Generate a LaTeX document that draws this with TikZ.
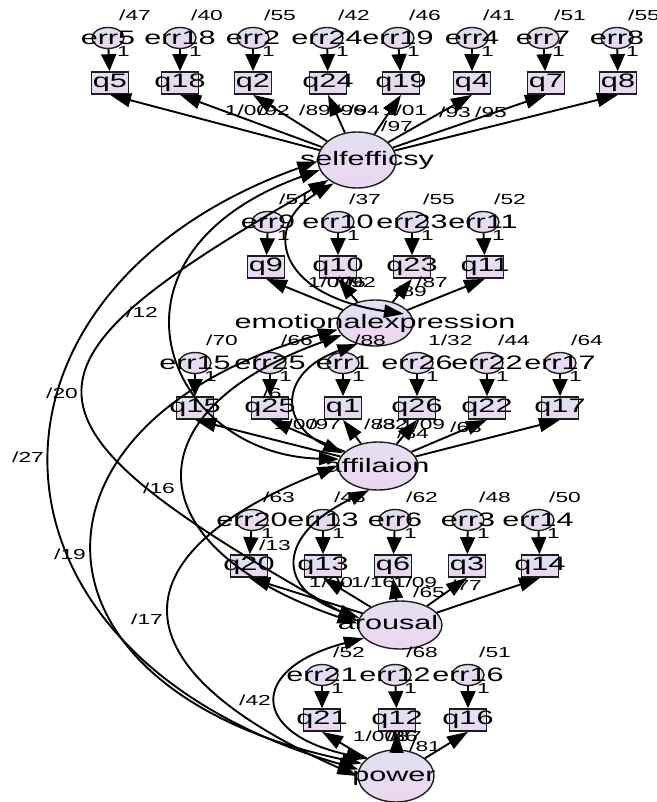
\documentclass[tikz,border=0pt]{standalone}
\usepackage{fontspec}
\setmainfont{Liberation Sans}
\usepackage{graphicx}
\usetikzlibrary{shapes.geometric,arrows.meta}
\newcommand\stx[1]{\scalebox{1.57}[1]{#1}}
\definecolor{fillA}{RGB}{226,224,242}
\definecolor{fillB}{RGB}{236,214,240}
\definecolor{edgec}{RGB}{30,30,30}
\begin{document}
\begin{tikzpicture}[x=1pt,y=-1pt,
  shp/.style={draw=edgec, line width=1.4pt, top color=fillA, bottom color=fillB},
  lat/.style={shp, ellipse, inner sep=0pt},
  errc/.style={shp, ellipse, minimum width=32pt, minimum height=21pt, inner sep=0pt},
  obs/.style={shp, rectangle, minimum width=37pt, minimum height=22pt, inner sep=0pt, line width=1.7pt},
  big/.style={font=\fontsize{19.5}{19.5}\selectfont, inner sep=0pt},
  sml/.style={font=\fontsize{14.5}{14.5}\selectfont, inner sep=0pt},
  con/.style={line width=1.9pt, -{Triangle[length=21pt,width=14pt]}},
  econ/.style={line width=1.9pt, -{Triangle[length=17pt,width=15pt]}},
  cov/.style={line width=1.9pt, {Triangle[length=20pt,width=13pt]}-{Triangle[length=20pt,width=13pt]}},
]
\useasboundingbox (0,0) rectangle (656,802);
\fill[white] (0,0) rectangle (656,802);

% latent variables
\node[lat, minimum width=78pt, minimum height=56pt] (SE) at (357,160) {};
\node[lat, minimum width=76pt, minimum height=46pt] (EE) at (375,323) {};
\node[lat, minimum width=80pt, minimum height=48pt] (AF) at (378,466) {};
\node[lat, minimum width=84pt, minimum height=48pt] (AR) at (400,625) {};
\node[lat, minimum width=76pt, minimum height=52pt] (PO) at (396,776) {};
\node[big] (SEt) at (367,160) {\stx{selfefficsy}};
\node[big] (EEt) at (375,323) {\stx{emotionalexpression}};
\node[big] (AFt) at (377,466) {\stx{affilaion}};
\node[big] (ARt) at (388,623) {\stx{arousal}};
\node[big] (POt) at (394,778) {\stx{power}};

% errors and observed variables
\foreach \n/\ex/\ey/\bx/\by/\v in {
  5/108/38/110/83/{/47}, 18/180/38/180/83/{/40}, 2/253/38/253/83/{/55},
  24/327/38/328/83/{/42}, 19/398/38/401/83/{/46}, 4/472/38/472/83/{/41},
  7/543/38/546/83/{/51}, 8/617/38/618/83/{/55},
  9/268/222/266/267/{/51}, 10/338/222/338/267/{/37}, 23/412/222/412/267/{/55},
  11/483/222/485/267/{/52},
  15/195/363/195/408/{/70}, 25/270/363/270/408/{/66}, 1/343/363/343/408/{/88},
  26/417/363/417/408/{1/32}, 22/487/363/487/408/{/44}, 17/560/363/560/408/{/64},
  20/252/520/249/566/{/63}, 13/323/520/323/566/{/48}, 6/395/520/393/566/{/62},
  3/468/520/467/566/{/48}, 14/538/520/540/566/{/50},
  21/322/675/322/720/{/52}, 12/395/675/397/720/{/68}, 16/468/675/468/720/{/51}}{
  \node[errc] (e\n) at (\ex,\ey) {};
  \node[big] (et\n) at (\ex,\ey) {\stx{err\n}};
  \node[obs] (q\n) at (\bx,\by) {};
  \node[big] (qt\n) at (\bx,\by) {\stx{q\n}};
  \node[sml, anchor=west] (one\n) at (\ex+9,\ey+14) {\stx{1}};
  \node[sml, anchor=west] (var\n) at (\ex+11,\ey-23) {\stx{\v}};
}

% loading labels
\node[sml] (la1) at (247,110) {\stx{1/00}};
\node[sml] (la2) at (274,110) {\stx{/92}};
\node[sml] (la3) at (315,110) {\stx{/89}};
\node[sml] (la4) at (350,110) {\stx{/96}};
\node[sml] (la5) at (364,110) {\stx{/94}};
\node[sml] (la6) at (405,110) {\stx{1/01}};
\node[sml] (la7) at (397,126) {\stx{/97}};
\node[sml] (la8) at (455,112) {\stx{/93}};
\node[sml] (la9) at (491,112) {\stx{/95}};
\node[sml] (lb1) at (330,282) {\stx{1/00}};
\node[sml] (lb2) at (350,282) {\stx{/96}};
\node[sml] (lb3) at (360,282) {\stx{/92}};
\node[sml] (lb4) at (432,282) {\stx{/87}};
\node[sml] (lb5) at (411,291) {\stx{/89}};
\node[sml] (lc1) at (296,424) {\stx{1/00}};
\node[sml] (lc2) at (325,424) {\stx{/97}};
\node[sml] (lc3) at (380,424) {\stx{/83}};
\node[sml] (lc4) at (392,424) {\stx{/82}};
\node[sml] (lc5) at (423,424) {\stx{1/09}};
\node[sml] (lc6) at (413,433) {\stx{/84}};
\node[sml] (lc7) at (466,427) {\stx{/63}};
\node[sml] (ld1) at (331,582) {\stx{1/00}};
\node[sml] (ld2) at (373,582) {\stx{1/16}};
\node[sml] (ld3) at (415,582) {\stx{1/09}};
\node[sml] (ld4) at (429,592) {\stx{/65}};
\node[sml] (ld5) at (466,585) {\stx{/77}};
\node[sml] (le1) at (375,736) {\stx{1/00}};
\node[sml] (le2) at (402,736) {\stx{/86}};
\node[sml] (le3) at (406,736) {\stx{/87}};
\node[sml] (le4) at (425,746) {\stx{/81}};

% covariance labels
\node[sml] (c1) at (142,312) {\stx{/12}};
\node[sml] (c2) at (62,393) {\stx{/20}};
\node[sml] (c3) at (28,457) {\stx{/27}};
\node[sml] (c4) at (159,488) {\stx{/16}};
\node[sml] (c5) at (70,554) {\stx{/19}};
\node[sml] (c6) at (147,619) {\stx{/17}};
\node[sml] (c7) at (255,700) {\stx{/42}};
\node[sml] (c8) at (275,545) {\stx{/13}};
\node[sml] (c9) at (272,393) {\stx{/6}};

% error arrows
\foreach \n in {5,18,2,24,19,4,7,8,9,10,23,11,15,25,1,26,22,17,20,13,6,3,14,21,12,16}
  \draw[econ] (e\n) -- (q\n);

% loadings
\foreach \n in {5,18,2,24,19,4,7,8} \draw[con] (SE) -- (q\n.south);
\foreach \n in {9,10,23,11} \draw[con] (EE) -- (q\n.south);
\foreach \n in {15,25,1,26,22,17} \draw[con] (AF) -- (q\n.south);
\foreach \n in {20,13,6,3,14} \draw[con] (AR) -- (q\n.south);
\foreach \n in {21,12,16} \draw[con] (PO) -- (q\n.south);

% covariances
\coordinate (eeIn) at (404,314);
\draw[cov] (SE.225) .. controls (262,225) and (275,295) .. (eeIn);
\draw[cov] (EE.230) .. controls (279,372) and (279,424) .. (AF.160);
\draw[cov] (AF.250) .. controls (276,535) and (276,589) .. (AR.170);
\draw[cov] (AR.200) .. controls (249,668) and (249,733) .. (PO.150);
\draw[cov] (SE.195) .. controls (85,255) and (165,455) .. (AF.170);
\draw[cov] (SE.215) .. controls (0,368) and (0,420) .. (AR.175);
\draw[cov] (SE.182) .. controls (-43,290) and (-43,653) .. (PO.170);
\draw[cov] (EE.190) .. controls (10,420) and (10,688) .. (PO.160);
\draw[cov] (EE.200) .. controls (131,410) and (131,546) .. (AR.178);
\draw[cov] (AF.180) .. controls (113,555) and (113,668) .. (PO.180);
\end{tikzpicture}
\end{document}
